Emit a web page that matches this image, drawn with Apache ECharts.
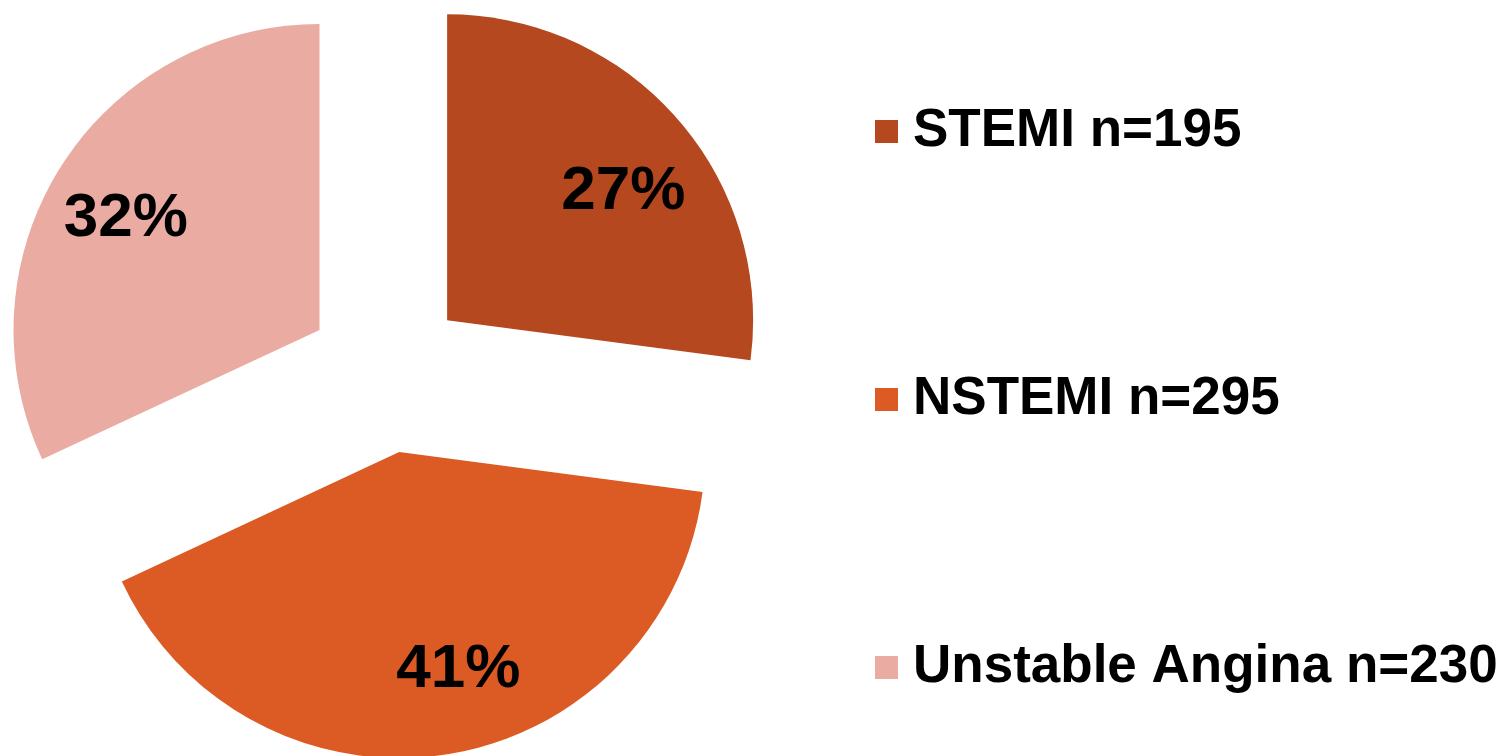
<!DOCTYPE html>
<html>
<head>
<meta charset="utf-8">
<script src="https://cdn.jsdelivr.net/npm/echarts@6/dist/echarts.min.js"></script>
<style>
  html, body { margin: 0; padding: 0; background: #fff; }
  #container { width: 1506px; height: 756px; }
</style>
</head>
<body>
<div id="container"></div>
<script>
// 数据
var categories = ['STEMI n=195', 'NSTEMI n=295', 'Unstable Angina n=230'];
var counts = [195, 295, 230];
var percentLabels = ['27%', '41%', '32%'];
var colors = ['#B5481E', '#DC5A24', '#E9ABA2'];
// 标签微调
var labelShift = [[7, 20], [25, -5], [-4, 10]];

var dom = document.getElementById("container");
var myChart = echarts.init(dom);
var option;

var pieData = categories.map(function (name, i) {
    return { name: name, value: counts[i], selected: true, itemStyle: { color: colors[i] } };
});
var labelData = categories.map(function (name, i) {
    return {
        name: name, value: counts[i], selected: true,
        label: { formatter: percentLabels[i] }
    };
});

option = {
    animation: false,
    legend: {
        orient: 'vertical',
        left: 870,
        top: 100,
        itemGap: 215,
        itemWidth: 23,
        itemHeight: 23,
        icon: 'rect',
        selectedMode: false,
        data: categories,
        textStyle: {
            fontFamily: 'Liberation Sans, Arial, sans-serif',
            fontWeight: 'bold',
            fontSize: 53,
            color: '#000',
            padding: [0, 0, 0, 10]
        }
    },
    series: [
        {
            type: 'pie',
            center: [387, 373],
            radius: [0, 306],
            startAngle: 90,
            selectedMode: 'multiple',
            selectedOffset: 80,
            silent: true,
            label: { show: false },
            labelLine: { show: false },
            data: pieData
        },
        {
            // 标签层
            type: 'pie',
            center: [387, 373],
            radius: [138, 306],
            startAngle: 90,
            selectedMode: 'multiple',
            selectedOffset: 80,
            silent: true,
            avoidLabelOverlap: false,
            itemStyle: { color: 'rgba(0,0,0,0)' },
            label: {
                show: true,
                position: 'inside',
                fontFamily: 'Liberation Sans, Arial, sans-serif',
                fontWeight: 'bold',
                fontSize: 62,
                color: '#000'
            },
            labelLayout: function (params) {
                var s = labelShift[params.dataIndex];
                return { dx: s[0], dy: s[1] };
            },
            labelLine: { show: false },
            data: labelData
        }
    ]
};

if (option && typeof option === 'object') {
    myChart.setOption(option);
}
</script>
</body>
</html>
